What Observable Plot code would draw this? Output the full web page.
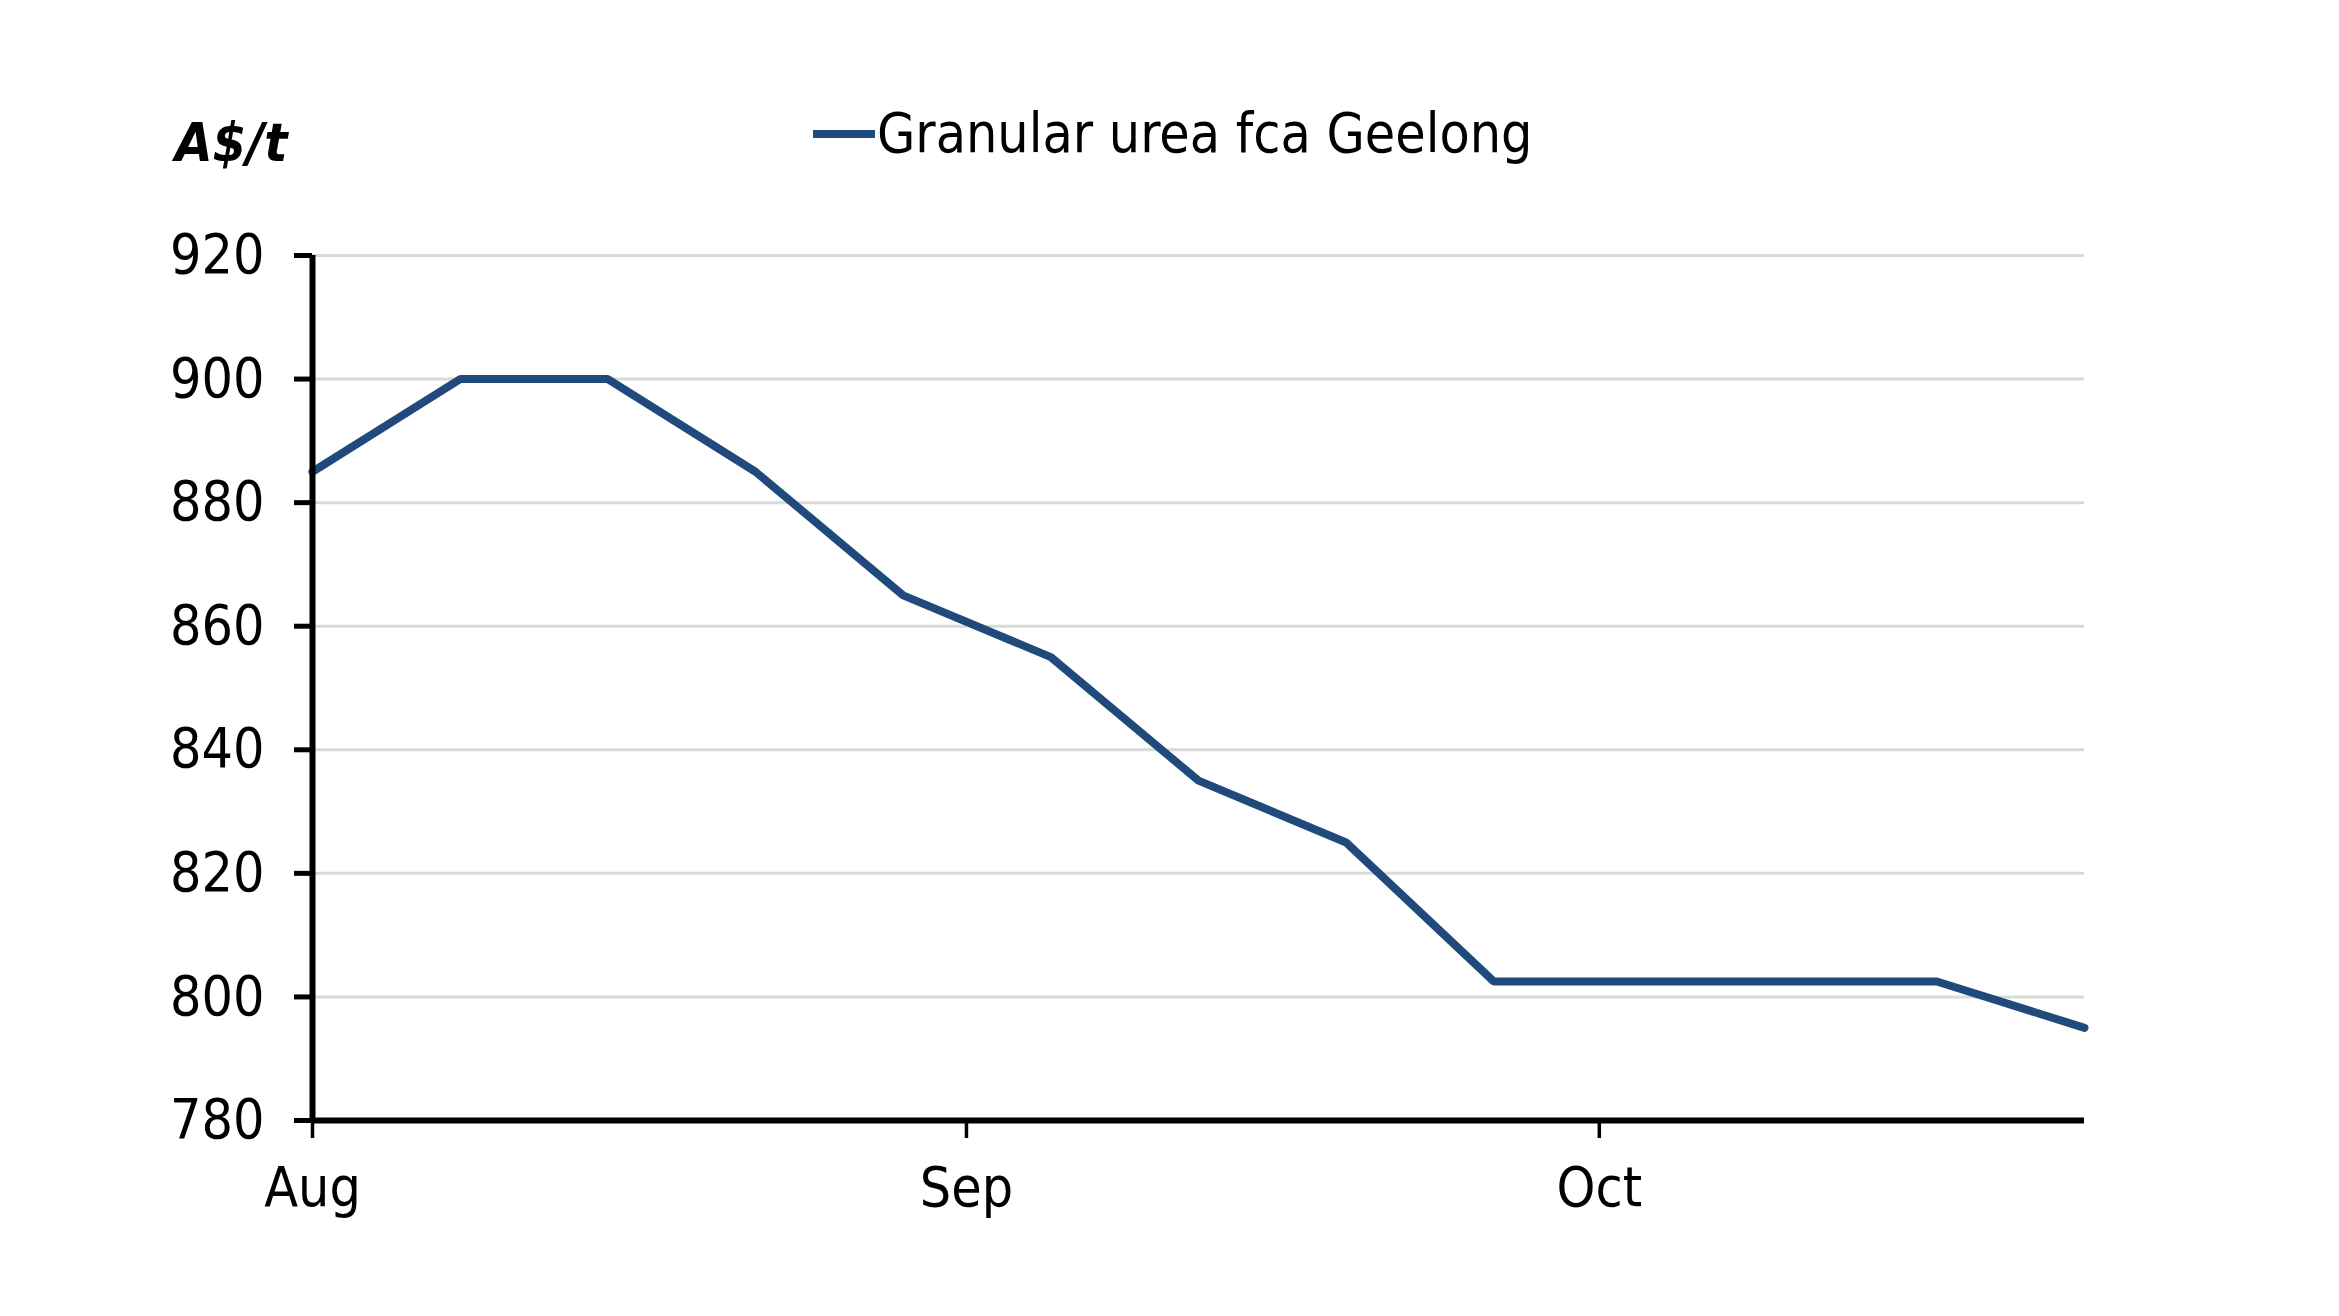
<!DOCTYPE html>
<html><head><meta charset="utf-8">
<script src="https://cdn.jsdelivr.net/npm/d3@7"></script>
<script src="https://cdn.jsdelivr.net/npm/@observablehq/plot@0.6"></script>
<style>
body{margin:0;background:#fff;}
#wrap{position:relative;width:2339px;height:1316px;font-family:"DejaVu Sans Condensed","DejaVu Sans",sans-serif;color:#000;}
#ylabel{position:absolute;left:175px;top:116px;font-size:54px;font-weight:bold;font-style:italic;line-height:1;}
#legend{position:absolute;left:813px;top:106px;font-size:55px;display:flex;align-items:center;line-height:1;}
#legend .sw{display:inline-block;width:62px;height:8px;background:#204a7c;margin-right:2px;}
#chart{position:absolute;left:0;top:0;}
</style></head>
<body><div id="wrap"><div id="chart"></div><div id="ylabel">A$/t</div><div id="legend"><span class="sw"></span><span id="legtext"></span></div></div>
<script>
const seriesName = "Granular urea fca Geelong";
const yAxisLabel = "A$/t";
const dates = ["2022-08-01","2022-08-08","2022-08-15","2022-08-22","2022-08-29","2022-09-05","2022-09-12","2022-09-19","2022-09-26","2022-10-03","2022-10-10","2022-10-17","2022-10-24"];
const prices = [885, 900, 900, 885, 865, 855, 835, 825, 802.5, 802.5, 802.5, 802.5, 795];
const yTicks = [780, 800, 820, 840, 860, 880, 900, 920];
const xTicks = ["2022-08-01","2022-09-01","2022-10-01"];
const lineColor = "#204a7c";

document.getElementById("legtext").textContent = seriesName;
document.getElementById("ylabel").textContent = yAxisLabel;

const data = dates.map((d, i) => ({date: new Date(d), price: prices[i]}));
const xDomain = [new Date(dates[0]), new Date(dates[dates.length - 1])];

const chart = Plot.plot({
  width: 2339,
  height: 1316,
  marginLeft: 312,
  marginRight: 255,
  marginTop: 255,
  marginBottom: 196,
  style: {fontFamily: '"DejaVu Sans Condensed","DejaVu Sans",sans-serif', fontSize: "55px", color: "#000", background: "#fff"},
  x: {type: "utc", domain: xDomain},
  y: {domain: [780, 920]},
  marks: [
    Plot.gridY(yTicks, {stroke: "#d9d9d9", strokeOpacity: 1, strokeWidth: 3}),
    Plot.line(data, {x: "date", y: "price", stroke: lineColor, strokeWidth: 8, strokeLinejoin: "miter"}),
    Plot.axisY(yTicks, {tickSize: 18, tickPadding: 30, strokeWidth: 5, label: null, fontSize: 55}),
    Plot.axisX(xTicks.map(d => new Date(d)), {tickSize: 18, tickPadding: 28, strokeWidth: 3.5, tickFormat: d3.utcFormat("%b"), label: null, fontSize: 55}),
    Plot.ruleX([xDomain[0]], {stroke: "#000", strokeWidth: 6}),
    Plot.ruleY([780], {stroke: "#000", strokeWidth: 6})
  ]
});
document.getElementById("chart").appendChild(chart);
</script>
</body></html>
